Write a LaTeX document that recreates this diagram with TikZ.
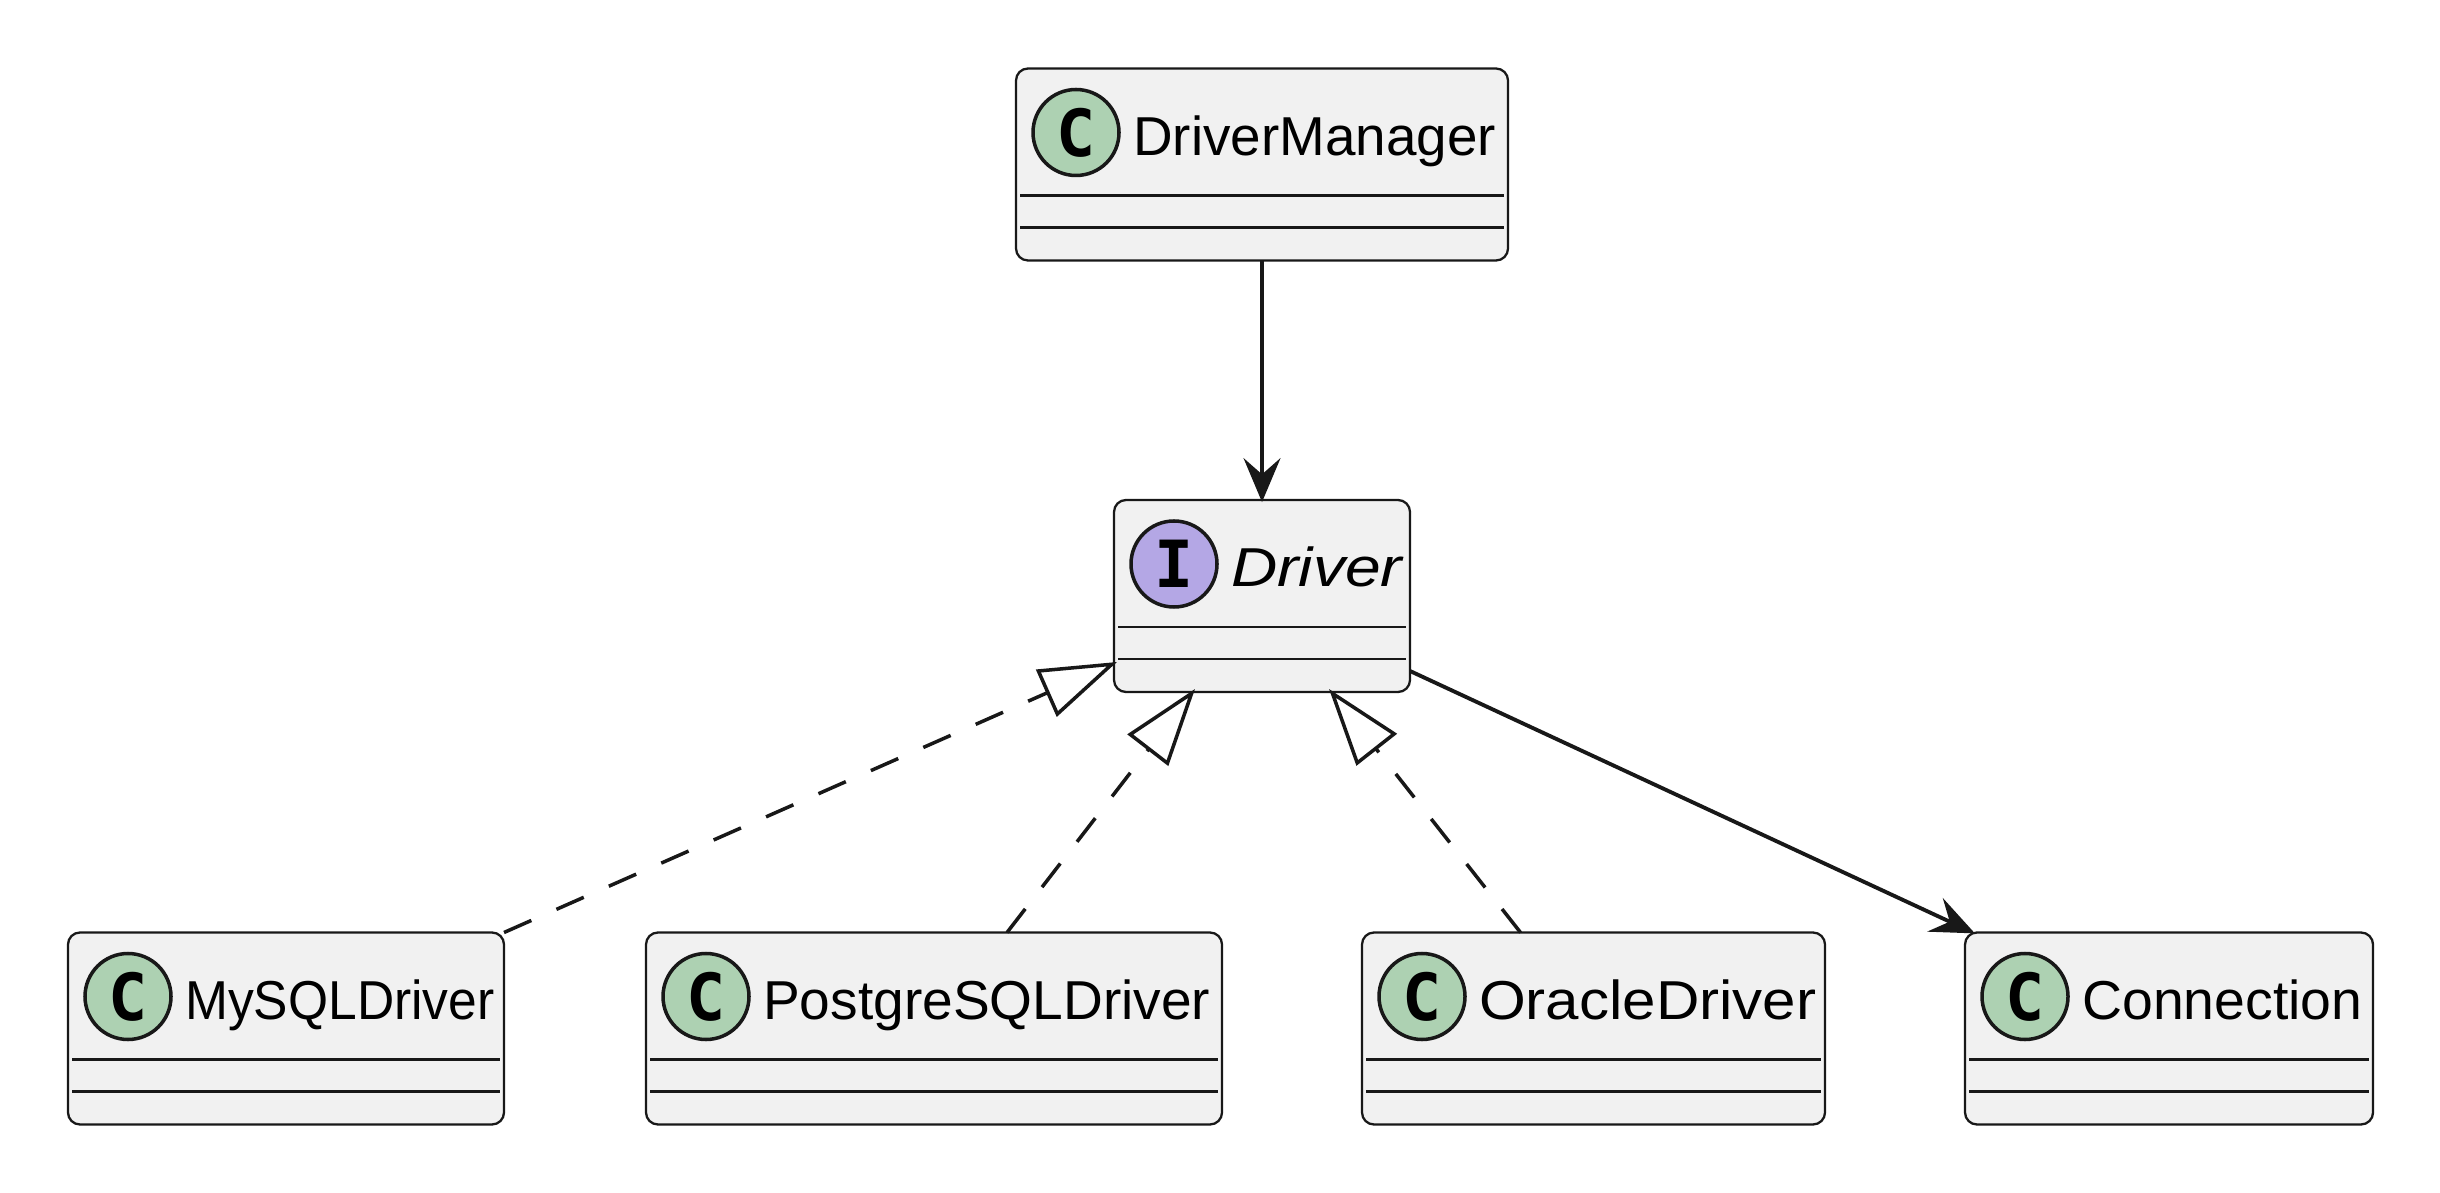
\documentclass[tikz,border=0pt]{standalone}
\usepackage{fontspec}
\setmainfont{Liberation Sans}
\newfontfamily\spotfont{DejaVu Sans Mono}
\usetikzlibrary{arrows.meta,calc,positioning}
\definecolor{BoxFill}{HTML}{F1F1F1}
\definecolor{LineDark}{HTML}{181818}
\definecolor{SpotGreen}{HTML}{ADD1B2}
\definecolor{SpotPurple}{HTML}{B4A7E5}
\tikzset{
  classbody/.style={draw=LineDark,fill=BoxFill,line width=0.65pt,rounded corners=0.12cm,minimum height=1.92cm,outer sep=0pt,inner sep=0pt},
  classspot/.style={circle,draw=LineDark,line width=1pt,minimum size=0.86cm,inner sep=0pt,font=\spotfont\bfseries\fontsize{18.5}{19}\selectfont},
  classname/.style={anchor=base west,inner sep=0pt,font=\fontsize{15.6}{18}\selectfont},
  classrule/.style={draw=LineDark,line width=0.6pt},
  usesline/.style={draw=LineDark,line width=1.1pt,shorten >=-0.6pt,-{Stealth[length=12.5pt,width=10.5pt,inset=4.6pt]}},
  implline/.style={draw=LineDark,line width=1pt,dash pattern=on 8.5pt off 7.8pt,-{Triangle[open,fill=white,length=22pt,width=14.5pt]}}
}
% name, x, y, width, spot colour, spot letter, label, label stretch
\newcommand{\classbox}[8]{%
  \node[classbody,minimum width=#4cm] (#1) at (#2,#3) {};
  \node[classspot,fill=#5] (#1-spot) at ($(#1.north west)+(0.60,-0.64)$) {#6};
  \node[classname] (#1-name) at ($(#1.north west)+(1.165,-0.87)$) {\addfontfeature{FakeStretch=#8}#7};
  \draw[classrule] ($(#1.north west)+(0.04,-1.27)$) -- ($(#1.north east)+(-0.04,-1.27)$);
  \draw[classrule] ($(#1.north west)+(0.04,-1.59)$) -- ($(#1.north east)+(-0.04,-1.59)$);}

\begin{document}
\begin{tikzpicture}
  \useasboundingbox (0,0) rectangle (24.4,11.92);
  \classbox{manager}{12.62}{10.275}{4.92}{SpotGreen}{C}{DriverManager}{1.0}
  \classbox{driver}{12.62}{5.96}{2.96}{SpotPurple}{I}{\itshape Driver}{1.17}
  \classbox{mysql}{2.86}{1.635}{4.36}{SpotGreen}{C}{MySQLDriver}{0.94}
  \classbox{postgres}{9.34}{1.635}{5.76}{SpotGreen}{C}{PostgreSQLDriver}{1.005}
  \classbox{oracle}{15.935}{1.635}{4.63}{SpotGreen}{C}{OracleDriver}{1.096}
  \classbox{connection}{21.69}{1.635}{4.08}{SpotGreen}{C}{Connection}{1.01}
  \draw[usesline] (manager.south) -- (driver.north);
  \draw[usesline] ([yshift=-0.75cm]driver.east) -- ([xshift=0.08cm]connection.north west);
  \draw[implline] (mysql.north east) -- ([xshift=0.03cm,yshift=-0.66cm]driver.west);
  \draw[implline] ([xshift=0.73cm]postgres.north) -- ([xshift=-0.67cm,yshift=0.03cm]driver.south);
  \draw[implline] ([xshift=-0.73cm]oracle.north) -- ([xshift=0.67cm,yshift=0.03cm]driver.south);
\end{tikzpicture}
\end{document}
